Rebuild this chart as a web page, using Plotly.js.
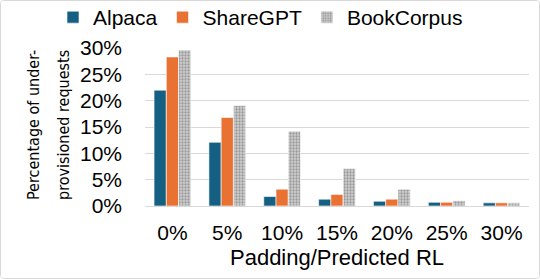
<!DOCTYPE html>
<html>
<head>
<meta charset="utf-8">
<script src="https://cdn.plot.ly/plotly-3.0.1.min.js"></script>
<style>
html,body{margin:0;padding:0;background:#fff;}
#chart{width:538px;height:277px;border:1px solid #d9d9d9;border-radius:4px;overflow:hidden;}
</style>
</head>
<body>
<div id="chart"></div>
<script>
const categories = ["0%", "5%", "10%", "15%", "20%", "25%", "30%"];
const alpaca = [22.0, 12.1, 1.8, 1.3, 0.9, 0.7, 0.6];
const sharegpt = [28.3, 16.8, 3.2, 2.2, 1.3, 0.7, 0.6];
const bookcorpus = [29.6, 19.1, 14.2, 7.1, 3.2, 1.0, 0.6];
const yTickVals = [0, 5, 10, 15, 20, 25, 30];
const yTickText = ["0%", "5%", "10%", "15%", "20%", "25%", "30%"];
const yTitleLines = ["Percentage of under-", "provisioned requests"];

const font = "Liberation Sans, Arial, sans-serif";
const narrow = "Liberation Sans Narrow, Arial Narrow, DejaVu Sans Condensed, sans-serif";
const traces = [
  {type:"bar", name:"Alpaca", x:categories, y:alpaca,
   marker:{color:"#156082", line:{color:"#ffffff", width:0.6}}},
  {type:"bar", name:"ShareGPT", x:categories, y:sharegpt,
   marker:{color:"#e97132", line:{color:"#ffffff", width:0.6}}},
  {type:"bar", name:"BookCorpus", x:categories, y:bookcorpus,
   marker:{color:"#c8c8c8", line:{color:"#ffffff", width:0.6},
     pattern:{shape:".", fgcolor:"#999999", bgcolor:"#d0d0d0", size:3, solidity:0.45}}}
];
const L = 144, W = 384, T = 47, H = 158;
const layout = {
  width:538, height:277,
  margin:{l:L, r:538-L-W, t:T, b:277-T-H, autoexpand:false},
  paper_bgcolor:"#ffffff", plot_bgcolor:"#ffffff",
  font:{family:font, color:"#000000", size:18},
  barmode:"group", bargap:0.33, bargroupgap:0,
  showlegend:true,
  legend:{orientation:"h", x:(52 - L) / W, xref:"paper", xanchor:"left",
    y:(T + H + 4) / H, yref:"paper", yanchor:"top",
    font:{size:21}, itemwidth:30, traceorder:"normal"},
  xaxis:{type:"category", showgrid:false, zeroline:false, showline:true, linecolor:"#d9d9d9",
    tickfont:{size:21}, ticks:"", ticklabelstandoff:8,
    title:{text:"Padding/Predicted RL", font:{size:22}, standoff:6}},
  yaxis:{range:[0,30], tickvals:yTickVals, ticktext:yTickText, showgrid:true, gridcolor:"#d9d9d9",
    zeroline:false, showline:false, tickfont:{size:21}, ticklabelstandoff:22},
  annotations: yTitleLines.map((t, i) => ({
    text:t, textangle:-90, showarrow:false, xref:"paper", yref:"paper",
    x:((i === 0 ? 32 : 62) - L) / W, y:(T + H - 124) / H, xanchor:"center", yanchor:"middle",
    font:{size:16, family:narrow, color:"#000000"}
  }))
};
Plotly.newPlot("chart", traces, layout, {displayModeBar:false, staticPlot:true});
</script>
</body>
</html>
